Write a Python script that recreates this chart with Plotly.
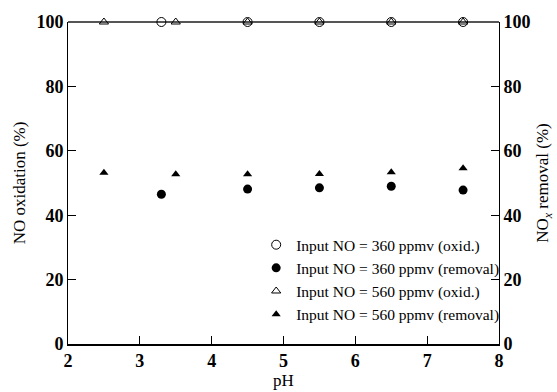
import plotly.graph_objects as go

ph_360 = [3.3, 4.5, 5.5, 6.5, 7.5]
ph_560 = [2.5, 3.5, 4.5, 5.5, 6.5, 7.5]
oxid_360 = [100, 100, 100, 100, 100]
removal_360 = [46.5, 48.1, 48.5, 49.0, 47.8]
oxid_560 = [100, 100, 100, 100, 100, 100]
removal_560 = [53.2, 52.7, 52.7, 52.8, 53.3, 54.6]
x_ticks = [2, 3, 4, 5, 6, 7, 8]
y_ticks = [0, 20, 40, 60, 80, 100]

FONT = "Liberation Serif"
TICKFONT = dict(family=FONT, size=18, weight="bold", color="black")
fig = go.Figure()
fig.add_trace(go.Scatter(x=ph_360, y=oxid_360, mode="markers", name="Input NO = 360 ppmv (oxid.)",
                         cliponaxis=False,
                         marker=dict(symbol="circle-open", size=9, color="black", line=dict(width=1))))
fig.add_trace(go.Scatter(x=ph_360, y=removal_360, mode="markers", name="Input NO = 360 ppmv (removal)",
                         marker=dict(symbol="circle", size=9, color="black")))
fig.add_trace(go.Scatter(x=ph_560, y=oxid_560, mode="markers", name="Input NO = 560 ppmv (oxid.)",
                         cliponaxis=False,
                         marker=dict(symbol="triangle-up-open", size=8, color="black", line=dict(width=1))))
fig.add_trace(go.Scatter(x=ph_560, y=removal_560, mode="markers", name="Input NO = 560 ppmv (removal)",
                         marker=dict(symbol="triangle-up", size=8, color="black"), yaxis="y2"))

fig.update_layout(
    width=557, height=392,
    margin=dict(l=68, r=58, t=22, b=48, autoexpand=False),
    plot_bgcolor="white", paper_bgcolor="white",
    font=dict(family=FONT, size=15.5, color="black"),
    xaxis=dict(range=[2, 8], tickvals=x_ticks, ticks="inside", ticklen=8, tickcolor="black",
               showline=True, linecolor="black", linewidth=1.5, showgrid=False, zeroline=False,
               automargin=False,
               title=dict(text="pH", standoff=0, font=dict(size=17)),
               tickfont=TICKFONT),
    yaxis=dict(range=[0, 100], tickvals=y_ticks, ticks="inside", ticklen=8, tickcolor="black",
               showline=True, linecolor="black", linewidth=1, showgrid=False, zeroline=False,
               automargin=False,
               title=dict(text="NO oxidation (%)", standoff=6, font=dict(size=17)),
               tickfont=TICKFONT),
    yaxis2=dict(range=[0, 100], tickvals=y_ticks, ticks="inside", ticklen=8, tickcolor="black",
                overlaying="y", side="right", automargin=False,
                showline=True, linecolor="black", linewidth=1, showgrid=False, zeroline=False,
                title=dict(text="NO<sub><i>x</i></sub> removal (%)", standoff=6, font=dict(size=17)),
                tickfont=TICKFONT),
    legend=dict(x=1.012, xanchor="right", y=0.04, yanchor="bottom", bgcolor="rgba(0,0,0,0)",
                font=dict(size=15.5), tracegroupgap=0, itemwidth=30),
    showlegend=True,
    shapes=[dict(type="line", xref="paper", yref="paper", x0=0, x1=1, y0=1, y1=1,
                 line=dict(color="#555555", width=2), layer="below")],
)
fig.write_html("out.html", config={"displayModeBar": False},
               post_script="document.body.style.margin='0';document.body.style.padding='0';")
